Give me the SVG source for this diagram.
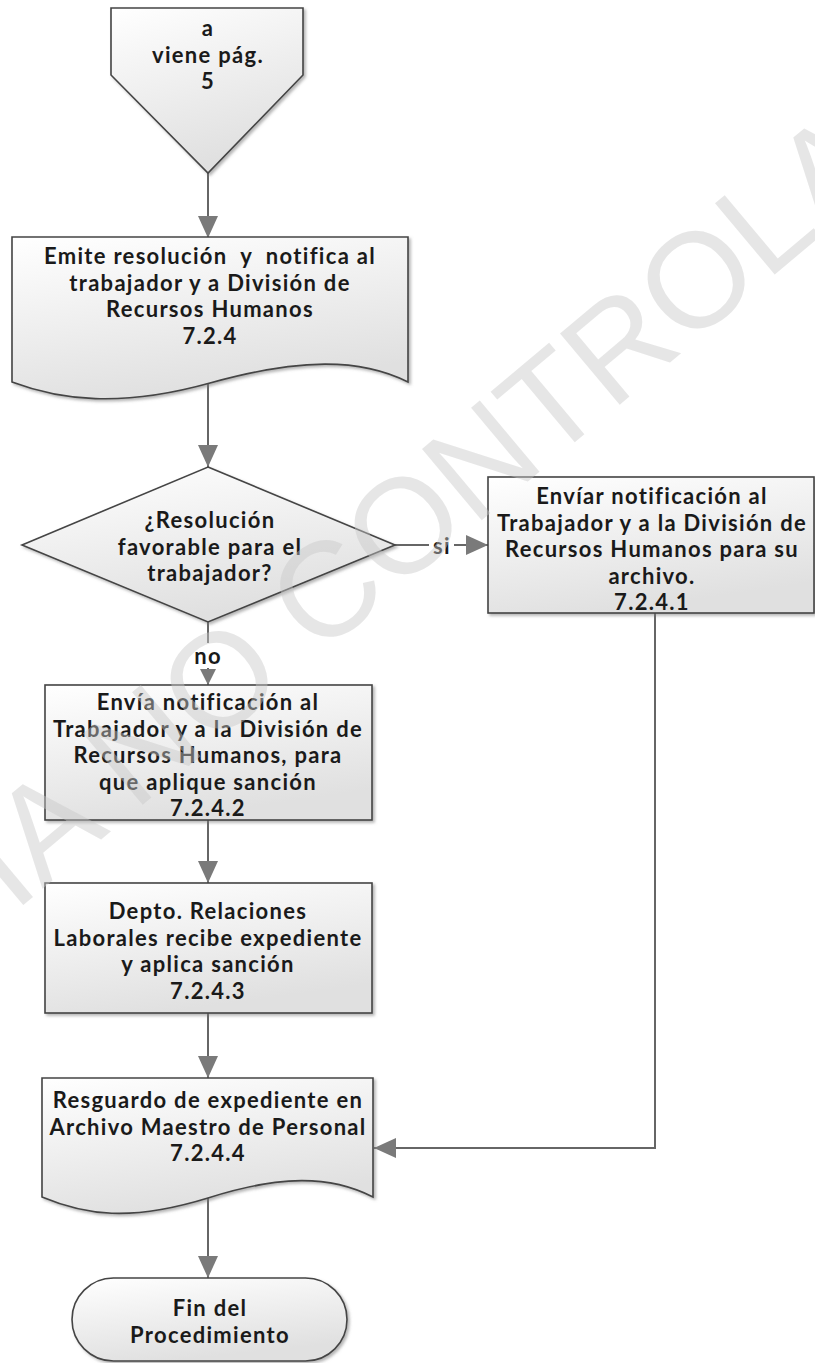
<svg xmlns="http://www.w3.org/2000/svg" width="815" height="1363" viewBox="0 0 815 1363">
<style>
.sh{fill:url(#g);stroke:#444;stroke-width:1.6;filter:url(#ds)}
.t{font-family:Lato,"Open Sans","Liberation Sans",sans-serif;font-weight:bold;font-size:22px;letter-spacing:1.3px;fill:#1a1a1a;text-anchor:middle;white-space:pre}
.c{fill:none;stroke:#666;stroke-width:2}
.wm{font-family:"Liberation Sans",sans-serif;font-size:135px;fill:#c8c8c8;fill-opacity:0.45;text-anchor:middle}
</style>
<defs>
<linearGradient id="g" x1="0" y1="0" x2="0.35" y2="1">
<stop offset="0" stop-color="#ffffff"/>
<stop offset="1" stop-color="#e0e0e0"/>
</linearGradient>
<filter id="ds" x="-5%" y="-5%" width="115%" height="115%">
<feDropShadow dx="2" dy="2" stdDeviation="1.5" flood-color="#777" flood-opacity="0.55"/>
</filter>
<marker id="ah" markerUnits="userSpaceOnUse" markerWidth="22" markerHeight="20" refX="22" refY="10" orient="auto">
<path d="M0,0 L22,10 L0,20 Z" fill="#7a7a7a"/>
</marker>
<marker id="ahs" markerUnits="userSpaceOnUse" markerWidth="16" markerHeight="16" refX="16" refY="8" orient="auto">
<path d="M0,0 L16,8 L0,16 Z" fill="#7a7a7a"/>
</marker>
</defs>
<rect width="815" height="1363" fill="#ffffff"/>

<g id="connectors">
<path class="c" d="M208,173 V238" marker-end="url(#ah)"/>
<path class="c" d="M208,383 V467" marker-end="url(#ah)"/>
<path class="c" d="M395,545 H429"/>
<path class="c" d="M454,545 H488" marker-end="url(#ah)"/>
<path class="c" d="M208,622 V643"/>
<path class="c" d="M208,668 V685" marker-end="url(#ahs)"/>
<path class="c" d="M208,820 V883" marker-end="url(#ah)"/>
<path class="c" d="M208,1013 V1078" marker-end="url(#ah)"/>
<path class="c" d="M655,613 V1148 H374" marker-end="url(#ah)"/>
<path class="c" d="M208,1198 V1278" marker-end="url(#ah)"/>
<text class="t" x="442" y="554">si</text>
<text class="t" x="208" y="664">no</text>
</g>

<g id="offpage">
<path class="sh" d="M111,8 H303 V75 L208,173 L111,75 Z"/>
<text class="t" x="208" y="36">a</text>
<text class="t" x="208" y="62.5">viene pág.</text>
<text class="t" x="208" y="89">5</text>
</g>

<g id="emite">
<path class="sh" d="M12,237 H408 V382 C360,358 300,358 210,383 C120,408 60,400 12,382 Z"/>
<text class="t" x="210" y="264" xml:space="preserve">Emite resolución  y  notifica al</text>
<text class="t" x="210" y="290.5">trabajador y a División de</text>
<text class="t" x="210" y="317">Recursos Humanos</text>
<text class="t" x="210" y="343.5">7.2.4</text>
</g>

<g id="decision">
<path class="sh" d="M208,467 L395,545 L208,622 L22,545 Z"/>
<text class="t" x="210" y="528">¿Resolución</text>
<text class="t" x="210" y="554.5">favorable para el</text>
<text class="t" x="210" y="581">trabajador?</text>
</g>

<g id="enviar-si">
<rect class="sh" x="488" y="477" width="326" height="136"/>
<text class="t" x="652" y="504">Envíar notificación al</text>
<text class="t" x="652" y="530.5">Trabajador y a la División de</text>
<text class="t" x="652" y="557">Recursos Humanos para su</text>
<text class="t" x="652" y="583.5">archivo.</text>
<text class="t" x="652" y="610">7.2.4.1</text>
</g>

<g id="envia-no">
<rect class="sh" x="45" y="685" width="327" height="135"/>
<text class="t" x="208" y="710">Envía notificación al</text>
<text class="t" x="208" y="736.5">Trabajador y a la División de</text>
<text class="t" x="208" y="763">Recursos Humanos, para</text>
<text class="t" x="208" y="789.5">que aplique sanción</text>
<text class="t" x="208" y="816">7.2.4.2</text>
</g>

<g id="depto">
<rect class="sh" x="45" y="883" width="327" height="130"/>
<text class="t" x="208" y="919">Depto. Relaciones</text>
<text class="t" x="208" y="945.5">Laborales recibe expediente</text>
<text class="t" x="208" y="972">y aplica sanción</text>
<text class="t" x="208" y="998.5">7.2.4.3</text>
</g>

<g id="resguardo">
<path class="sh" d="M42,1078 H373 V1197 C330,1175 280,1175 208,1198 C130,1222 85,1215 42,1197 Z"/>
<text class="t" x="208" y="1108">Resguardo de expediente en</text>
<text class="t" x="208" y="1134.5">Archivo Maestro de Personal</text>
<text class="t" x="208" y="1161">7.2.4.4</text>
</g>

<g id="fin">
<rect class="sh" x="72" y="1278" width="275" height="83" rx="41.5" ry="41.5"/>
<text class="t" x="210" y="1316">Fin del</text>
<text class="t" x="210" y="1342.5">Procedimiento</text>
</g>

<text class="wm" transform="translate(413,578) rotate(-40)">COPIA NO CONTROLADA</text>
</svg>
